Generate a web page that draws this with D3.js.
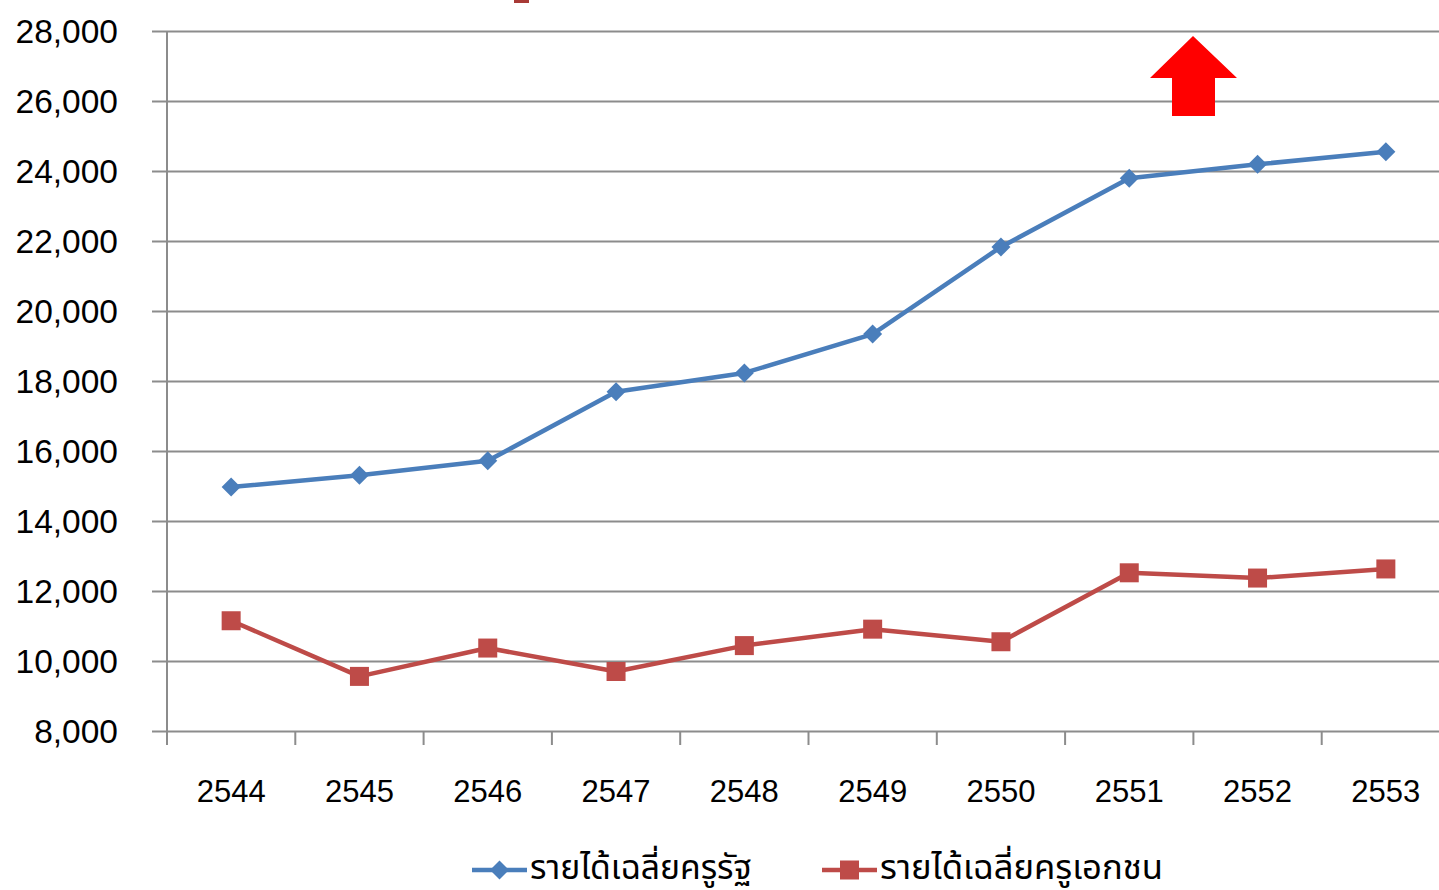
<!DOCTYPE html>
<html><head><meta charset="utf-8">
<script src="https://cdn.jsdelivr.net/npm/d3@7"></script>
<style>html,body{margin:0;padding:0;background:#fff;overflow:hidden}</style>
</head><body>
<svg id="c" width="1439" height="890"></svg>
<script>
const years = ["2544","2545","2546","2547","2548","2549","2550","2551","2552","2553"];
const govTeacher = [14970, 15310, 15720, 17690, 18230, 19340, 21830, 23790, 24190, 24550];
const privTeacher = [11150, 9560, 10370, 9700, 10440, 10910, 10550, 12520, 12370, 12630];
const yTicks = [8000,10000,12000,14000,16000,18000,20000,22000,24000,26000,28000];
const seriesNames = ["รายได้เฉลี่ยครูรัฐ", "รายได้เฉลี่ยครูเอกชน"];
const colors = ["#4a7ebb", "#be4b48"];

(function(){
const svg = d3.select("#c");
const pL = 167, pR = 1450, pT = 31, pB = 731;
const x = d3.scaleBand().domain(years).range([pL, pR]);
const y = d3.scaleLinear().domain([8000, 28000]).range([pB, pT]);
const font = "'Liberation Sans', Arial, sans-serif";
const thaiFont = "'Noto Sans Thai','Noto Sans Thai Looped','Noto Sans','DejaVu Sans',sans-serif";

// gridlines
svg.append("g").selectAll("line").data(yTicks).join("line")
  .attr("x1", 152).attr("x2", 1439)
  .attr("y1", d => Math.round(y(d)) + 0.5).attr("y2", d => Math.round(y(d)) + 0.5)
  .attr("stroke", "#8c8c8c").attr("stroke-width", 2);

// y axis line
svg.append("line").attr("x1", pL).attr("x2", pL).attr("y1", pT).attr("y2", pB + 13)
  .attr("stroke", "#8c8c8c").attr("stroke-width", 2);

// x tick marks
const xTickPos = years.map(d => x(d)).concat([pR]);
svg.append("g").selectAll("line").data(xTickPos).join("line")
  .attr("x1", d => d).attr("x2", d => d).attr("y1", pB).attr("y2", pB + 14)
  .attr("stroke", "#8c8c8c").attr("stroke-width", 2);

// y labels
svg.append("g").selectAll("text").data(yTicks).join("text")
  .attr("x", 118).attr("y", d => y(d)).attr("dy", "0.36em")
  .attr("text-anchor", "end").attr("font-family", font).attr("font-size", 33.5).attr("fill", "#000")
  .text(d => d3.format(",")(d));

// x labels
svg.append("g").selectAll("text").data(years).join("text")
  .attr("x", d => x(d) + x.bandwidth()/2).attr("y", 791).attr("dy", "0.36em")
  .attr("text-anchor", "middle").attr("font-family", font).attr("font-size", 31).attr("fill", "#000")
  .text(d => d);

const cx = d => x(d) + x.bandwidth()/2;
const line = d3.line().x((d,i) => cx(years[i])).y(d => y(d));

[govTeacher, privTeacher].forEach((s, k) => {
  svg.append("path").datum(s).attr("d", line).attr("fill", "none")
    .attr("stroke", colors[k]).attr("stroke-width", 4.5).attr("stroke-linejoin", "round");
});

const diamond = (g, px, py, r) => g.append("path")
  .attr("d", `M${px},${py-r}L${px+r},${py}L${px},${py+r}L${px-r},${py}Z`).attr("fill", colors[0]);
const square = (g, px, py, h) => g.append("rect")
  .attr("x", px-h).attr("y", py-h).attr("width", 2*h).attr("height", 2*h).attr("fill", colors[1]);

const mg = svg.append("g");
govTeacher.forEach((v,i) => diamond(mg, cx(years[i]), y(v), 9.5));
privTeacher.forEach((v,i) => square(mg, cx(years[i]), y(v), 9.5));

// partial red marker at top (cut off)
svg.append("rect").attr("x", 514).attr("y", -12).attr("width", 15).attr("height", 15).attr("fill", "#a83a36");

// red arrow
svg.append("path")
  .attr("d", "M1193,36L1237,78L1215,78L1215,116L1172,116L1172,78L1150,78Z")
  .attr("fill", "#ff0000");

// legend
const lg = svg.append("g");
const legendY = 870;
[[472, 530, 222], [822, 880, 283]].forEach(([lx, tx, tw], k) => {
  lg.append("line").attr("x1", lx).attr("x2", lx + 55).attr("y1", legendY).attr("y2", legendY)
    .attr("stroke", colors[k]).attr("stroke-width", 4.5);
  if (k === 0) diamond(lg, lx + 27.5, legendY, 9.5); else square(lg, lx + 27.5, legendY, 9.5);
  lg.append("text").attr("x", tx).attr("y", 879)
    .attr("font-family", thaiFont).attr("font-size", 33).attr("fill", "#000")
    .attr("textLength", tw).attr("lengthAdjust", "spacingAndGlyphs")
    .text(seriesNames[k]);
});
})();
</script>
</body></html>
